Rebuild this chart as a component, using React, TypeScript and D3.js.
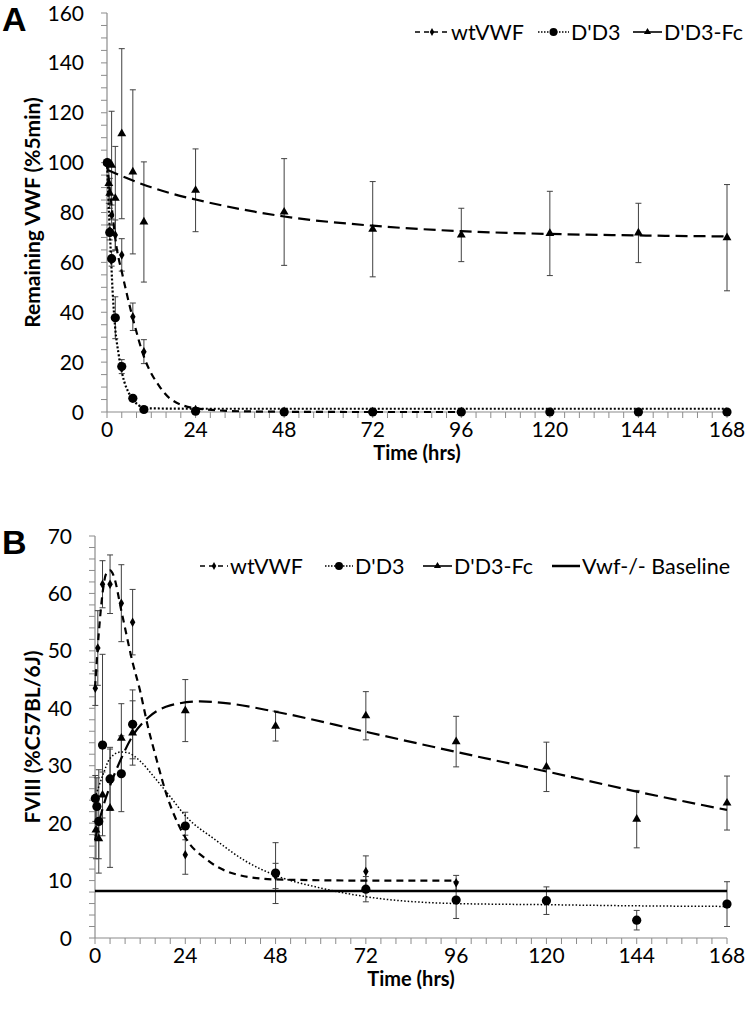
import React from "react";
import * as d3 from "d3";

// ---------- Panel A data (Remaining VWF, %5min) ----------
const aWtT = [0.083, 1.25, 2.25, 4, 7, 10, 24, 48, 72, 96];
const aWtV = [100, 79, 71, 63, 38.2, 24.2, 1, 0.3, 0.2, 0.2];
const aWtE = [0, 4, 6, 6.5, 5.5, 4.8, 0.8, 0.3, 0.2, 0.2];

const aD3T = [0.083, 0.75, 1.25, 2.25, 4, 7, 10, 24, 48, 72, 96, 120, 144, 168];
const aD3V = [100, 72, 61.5, 37.8, 18.2, 5.5, 1, 0.3, 0, 0, 0, 0, 0, 0];
const aD3E = [0, 3, 3, 8.4, 2.8, 1, 0.5, 0.5, 0, 0, 0, 0, 0, 0];

const aFcT = [0.083, 0.5, 0.75, 1.25, 2.25, 4, 7, 10, 24, 48, 72, 96, 120, 144, 168];
const aFcV = [100, 91.7, 87.7, 99, 85.7, 111.6, 96.3, 76.2, 88.9, 80.2, 73.3, 71.0, 71.6, 71.8, 69.9];
const aFcE = [0, 8, 6, 21.6, 20.8, 34.1, 32.9, 24.1, 16.6, 21.4, 19.1, 10.7, 16.9, 11.9, 21.3];

const aFitWtT = [0, 1, 2.6, 4.1, 7.1, 10, 14.3, 17, 24, 36, 48, 72, 96];
const aFitWtV = [100, 86, 66, 55.6, 37, 22.2, 10.1, 5.5, 1.5, 0.3, 0.1, 0, 0];
const aFitD3T = [0, 0.6, 1, 1.5, 2.2, 3.1, 4.1, 6.2, 8.5, 10.7, 24, 168];
const aFitD3V = [100, 78, 65, 49, 34, 23.6, 15.5, 6.8, 2.8, 1.5, 1.3, 1.3];
const aFitFcT = [0, 6, 12, 18, 24, 36, 48, 72, 96, 120, 144, 168];
const aFitFcV = [97.2, 93.4, 90.1, 87.4, 85.2, 81.4, 78.4, 74.7, 72.5, 71.4, 70.8, 70.4];

// ---------- Panel B data (FVIII, %C57BL/6J) ----------
const bWtT = [0.083, 0.75, 2, 4, 7, 10, 24, 48, 72, 96];
const bWtV = [43.5, 50.5, 61.6, 61.6, 58.3, 55, 14.5, 10.8, 11.6, 9.6];
const bWtE = [3, 6.5, 4.1, 5.1, 6.7, 5.7, 3.4, 2.2, 2.7, 1.3];

const bD3T = [0.083, 0.5, 1, 2, 4, 7, 10, 24, 48, 72, 96, 120, 144, 168];
const bD3V = [24.3, 22.9, 20.3, 33.6, 27.7, 28.6, 37.2, 19.5, 11.3, 8.5, 6.6, 6.5, 3.1, 5.9];
const bD3E = [4, 5, 9, 15.8, 5.5, 6.6, 6, 2.4, 5.3, 2.2, 3.2, 2.4, 1.7, 3.9];

const bFcT = [0.25, 1, 2, 4, 7, 10, 24, 48, 72, 96, 120, 144, 168];
const bFcV = [18.8, 17.3, 24.9, 22.6, 34.8, 35.7, 39.6, 36.9, 38.7, 34.2, 29.8, 20.7, 23.5];
const bFcE = [5, 3.5, 4, 10.3, 6, 5.6, 5.4, 2.6, 4.2, 4.4, 4.3, 5, 4.7];

const bBaseT = [0, 168];
const bBaseV = [8.2, 8.2];

const bFitWtT = [0, 1, 2, 3, 4, 5, 7, 10, 12, 14, 16.4, 19, 22, 24, 30, 38, 48, 72, 96];
const bFitWtV = [43.5, 53, 60, 63.5, 64, 63, 57, 48, 43, 37, 31, 25, 20, 17.5, 13.5, 11, 10.2, 10, 10];
const bFitD3T = [0, 2, 4, 7, 9, 12, 16, 20, 24, 32, 40, 48, 60, 72, 96, 120, 144, 168];
const bFitD3V = [24.4, 28.2, 31.3, 32.4, 32.2, 30.8, 27.8, 24.6, 21.3, 17.1, 13.4, 10.9, 8.7, 7.2, 6.0, 5.8, 5.6, 5.5];
const bFitFcT = [0, 1, 2, 4, 7, 10, 14, 20, 28, 36, 48, 72, 96, 120, 144, 168];
const bFitFcV = [17, 20, 22.5, 26.5, 31.3, 35.2, 38.3, 40.5, 41.2, 40.8, 39.4, 35.9, 32.4, 29, 25.5, 22.3];

const xTickLabels = [0, 24, 48, 72, 96, 120, 144, 168];
const legendA = ["wtVWF", "D'D3", "D'D3-Fc"];
const legendB = ["wtVWF", "D'D3", "D'D3-Fc", "Vwf-/- Baseline"];

const FONT = "Lato, 'Open Sans', sans-serif";
const AXIS = "#8c8c8c";
const ERR = "#404040";

type Kind = "diamond" | "circle" | "triangle";

function Marker({ kind, x, y, small }: { kind: Kind; x: number; y: number; small?: boolean }) {
  if (kind === "circle") return <circle cx={x} cy={y} r={small ? 4 : 4.6} fill="#000" />;
  const sym = kind === "diamond" ? d3.symbolDiamond : d3.symbolTriangle;
  const size = kind === "diamond" ? (small ? 18 : 26) : small ? 22 : 34;
  const p = d3.symbol().type(sym).size(size)();
  return <path d={p || ""} transform={`translate(${x},${y})`} fill="#000" />;
}

type Series = { t: number[]; v: number[]; e: number[]; kind: Kind };
type Fit = { t: number[]; v: number[]; dash: string; width: number };

function Panel(props: {
  x0: number; x1: number; yTop: number; yBot: number; yMax: number;
  minor: number; major: number; letter: string; yTitle: string;
  series: Series[]; fits: Fit[]; base?: { t: number[]; v: number[] };
  legend: React.ReactNode;
}) {
  const { x0, x1, yTop, yBot, yMax, minor, major } = props;
  const x = d3.scaleLinear().domain([0, 168]).range([x0, x1]);
  const y = d3.scaleLinear().domain([0, yMax]).range([yBot, yTop]);
  const line = d3.line<[number, number]>().x((d) => x(d[0])).y((d) => y(d[1])).curve(d3.curveMonotoneX);
  const yMinor = d3.range(0, yMax + 0.001, minor);
  const yMajor = d3.range(0, yMax + 0.001, major);
  const xMinor = d3.range(0, 168.001, 4);
  return (
    <g>
      {/* axes */}
      <line x1={x0} x2={x0} y1={yTop} y2={yBot} stroke={AXIS} strokeWidth={1.2} />
      <line x1={x0} x2={x1} y1={yBot} y2={yBot} stroke={AXIS} strokeWidth={1.2} />
      {yMinor.map((v) => (
        <line key={"ym" + v} x1={x0 - 6} x2={x0} y1={y(v)} y2={y(v)} stroke={AXIS} strokeWidth={1} />
      ))}
      {xMinor.map((v) => (
        <line key={"xm" + v} x1={x(v)} x2={x(v)} y1={yBot} y2={yBot + 6} stroke={AXIS} strokeWidth={1} />
      ))}
      {yMajor.map((v) => (
        <text key={"yl" + v} x={x0 - 23} y={y(v)} dy="0.36em" textAnchor="end" fontFamily={FONT} fontSize={21}>
          {v}
        </text>
      ))}
      {xTickLabels.map((v) => (
        <text key={"xl" + v} x={x(v)} y={yBot + 25} textAnchor="middle" fontFamily={FONT} fontSize={21}>
          {v}
        </text>
      ))}
      <text x={(x0 + x1) / 2} y={yBot + 48} textAnchor="middle" fontFamily={FONT} fontWeight="bold" fontSize={20}>
        Time (hrs)
      </text>
      <text
        transform={`translate(32,${(yTop + yBot) / 2}) rotate(-90)`}
        textAnchor="middle"
        dy="0.36em"
        fontFamily={FONT}
        fontWeight="bold"
        fontSize={21}
      >
        {props.yTitle}
      </text>
      <text x={2} y={yTop + 18} fontFamily="'Liberation Sans', Arial, sans-serif" fontWeight="bold" fontSize={34}>
        {props.letter}
      </text>
      {/* error bars */}
      {props.series.map((s, si) =>
        s.t.map((t, i) =>
          s.e[i] > 0 ? (
            <g key={`e${si}-${i}`} stroke={ERR} strokeWidth={1}>
              <line x1={x(t)} x2={x(t)} y1={y(s.v[i] + s.e[i])} y2={y(Math.max(0, s.v[i] - s.e[i]))} />
              <line x1={x(t) - 3} x2={x(t) + 3} y1={y(s.v[i] + s.e[i])} y2={y(s.v[i] + s.e[i])} />
              <line x1={x(t) - 3} x2={x(t) + 3} y1={y(Math.max(0, s.v[i] - s.e[i]))} y2={y(Math.max(0, s.v[i] - s.e[i]))} />
            </g>
          ) : null
        )
      )}
      {/* baseline */}
      {props.base ? (
        <path
          d={d3.line<number>().x((d, i) => x(props.base!.t[i])).y((d) => y(d))(props.base.v) || ""}
          stroke="#000"
          strokeWidth={2.5}
          fill="none"
        />
      ) : null}
      {/* fit lines */}
      {props.fits.map((f, fi) => (
        <path
          key={"f" + fi}
          d={line(f.t.map((t, i) => [t, f.v[i]] as [number, number])) || ""}
          fill="none"
          stroke="#000"
          strokeWidth={f.width}
          strokeDasharray={f.dash}
        />
      ))}
      {/* markers */}
      {props.series.map((s, si) =>
        s.t.map((t, i) => <Marker key={`m${si}-${i}`} kind={s.kind} x={x(t)} y={y(s.v[i])} />)
      )}
      {props.legend}
    </g>
  );
}

function LegendItem({ x, y, w, kind, dash, width, label, noMarker }: {
  x: number; y: number; w: number; kind: Kind; dash: string; width: number; label: string; noMarker?: boolean;
}) {
  return (
    <g>
      <line x1={x} x2={x + w} y1={y} y2={y} stroke="#000" strokeWidth={width} strokeDasharray={dash} />
      {noMarker ? null : <Marker kind={kind} x={x + w / 2} y={y} small />}
      <text x={x + w + 2} y={y} dy="0.36em" fontFamily={FONT} fontSize={21.5}>
        {label}
      </text>
    </g>
  );
}

export default function App() {
  const legA = (
    <g>
      <LegendItem x={415} y={32} w={34} kind="diamond" dash="5,4" width={1.6} label={legendA[0]} />
      <LegendItem x={538} y={32} w={31} kind="circle" dash="1.5,1.5" width={1.3} label={legendA[1]} />
      <LegendItem x={633} y={32} w={29} kind="triangle" dash="" width={1.6} label={legendA[2]} />
    </g>
  );
  const legB = (
    <g>
      <LegendItem x={200} y={566} w={28} kind="diamond" dash="5,4" width={1.6} label={legendB[0]} />
      <LegendItem x={325} y={566} w={28} kind="circle" dash="1.5,1.5" width={1.3} label={legendB[1]} />
      <LegendItem x={423} y={566} w={29} kind="triangle" dash="" width={1.6} label={legendB[2]} />
      <LegendItem x={552} y={566} w={28} kind="circle" dash="" width={2.5} label={legendB[3]} noMarker />
    </g>
  );
  return (
    <svg width={749} height={1018} style={{ position: "absolute", left: 0, top: 0, background: "#fff" }}>
      <rect width={749} height={1018} fill="#fff" />
      <Panel
        x0={107} x1={727} yTop={13} yBot={412} yMax={160} minor={5} major={20}
        letter="A" yTitle="Remaining VWF (%5min)"
        series={[
          { t: aWtT, v: aWtV, e: aWtE, kind: "diamond" },
          { t: aD3T, v: aD3V, e: aD3E, kind: "circle" },
          { t: aFcT, v: aFcV, e: aFcE, kind: "triangle" },
        ]}
        fits={[
          { t: aFitWtT, v: aFitWtV, dash: "7,5", width: 2.2 },
          { t: aFitD3T, v: aFitD3V, dash: "2,2", width: 2.2 },
          { t: aFitFcT, v: aFitFcV, dash: "12,6", width: 2.2 },
        ]}
        legend={legA}
      />
      <Panel
        x0={95} x1={727} yTop={536} yBot={938} yMax={70} minor={2} major={10}
        letter="B" yTitle="FVIII (%C57BL/6J)"
        series={[
          { t: bWtT, v: bWtV, e: bWtE, kind: "diamond" },
          { t: bD3T, v: bD3V, e: bD3E, kind: "circle" },
          { t: bFcT, v: bFcV, e: bFcE, kind: "triangle" },
        ]}
        fits={[
          { t: bFitWtT, v: bFitWtV, dash: "7,5", width: 2.2 },
          { t: bFitD3T, v: bFitD3V, dash: "1.5,2", width: 1.5 },
          { t: bFitFcT, v: bFitFcV, dash: "13,6", width: 2.2 },
        ]}
        base={{ t: bBaseT, v: bBaseV }}
        legend={legB}
      />
    </svg>
  );
}
